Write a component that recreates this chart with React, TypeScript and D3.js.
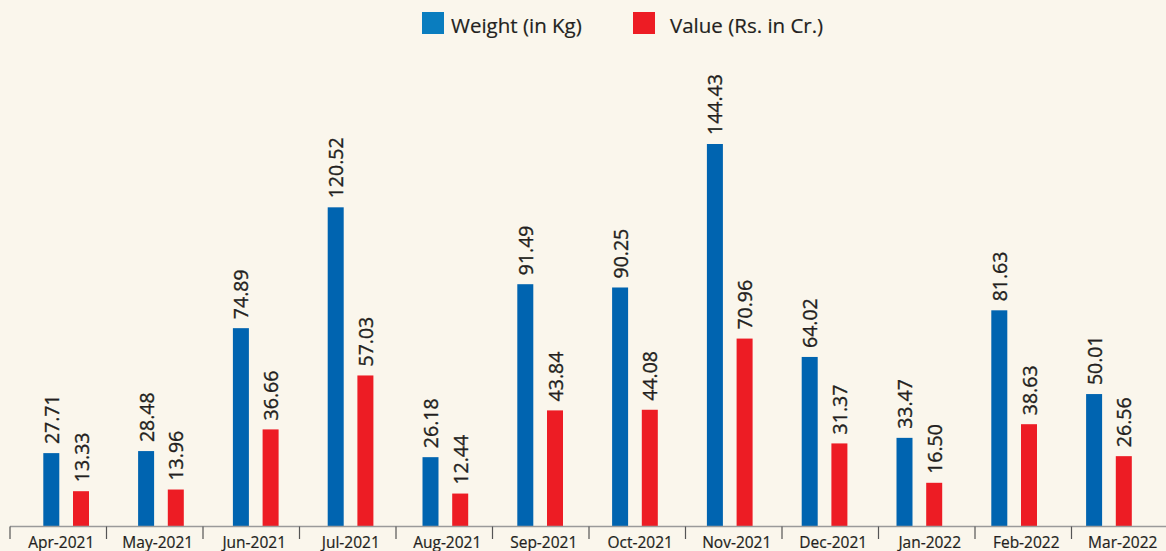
import React from "react";
import * as d3 from "d3";

const months = ["Apr-2021","May-2021","Jun-2021","Jul-2021","Aug-2021","Sep-2021","Oct-2021","Nov-2021","Dec-2021","Jan-2022","Feb-2022","Mar-2022"];
const weight = [27.71,28.48,74.89,120.52,26.18,91.49,90.25,144.43,64.02,33.47,81.63,50.01];
const value = [13.33,13.96,36.66,57.03,12.44,43.84,44.08,70.96,31.37,16.50,38.63,26.56];
const seriesNames = ["Weight (in Kg)", "Value (Rs. in Cr.)"];

const W = 1166, H = 551;
const BASE = 526.5;
const BLUE = "#0064b0";
const RED = "#ed1c24";
const LEG_BLUE = "#0a7dbf";
const TXT = "#231f20";
const FONT = "'Open Sans', sans-serif";

export default function App() {
  const xBars = d3.scaleBand<string>().domain(months).range([10, 10 + 12 * 94.8]).padding(0);
  const xTicks = d3.scaleBand<string>().domain(months).range([10, 10 + 12 * 96.5]).padding(0);
  const y = d3.scaleLinear().domain([0, 144.43]).range([BASE, 144]);
  const barW = 16;
  const offsets = [33.3, 63];
  const colors = [BLUE, RED];
  const data = [weight, value];

  return (
    <div style={{ position: "absolute", left: 0, top: 0, width: W, height: H }}>
      <svg width={W} height={H} style={{ display: "block", background: "#faf6ec" }}>
        <rect x={0} y={0} width={W} height={H} fill="#faf6ec" />
        {/* legend */}
        <rect x={422} y={12} width={22} height={22} fill={LEG_BLUE} />
        <text x={451} y={32.5} fontFamily={FONT} fontSize={20.5} fill={TXT} stroke={TXT} strokeWidth={0.2}>{seriesNames[0]}</text>
        <rect x={633} y={12} width={22} height={22} fill={RED} />
        <text x={670} y={32.5} fontFamily={FONT} fontSize={20.5} fill={TXT} stroke={TXT} strokeWidth={0.2}>{seriesNames[1]}</text>

        {/* bars and labels */}
        {data.map((series, si) =>
          series.map((v, i) => {
            const m = months[i];
            const bx = (xBars(m) as number) + offsets[si];
            const top = y(v);
            const cx = bx + barW / 2;
            return (
              <g key={si + "-" + i}>
                <rect x={bx} y={top} width={barW} height={BASE - top} fill={colors[si]} />
                <text
                  transform={`translate(${cx + 7.5},${top - 9}) rotate(-90)`}
                  fontFamily={FONT}
                  fontSize={19.5}
                  fill={TXT}
                  stroke={TXT}
                  strokeWidth={0.35}
                  textAnchor="start"
                >
                  {v.toFixed(2)}
                </text>
              </g>
            );
          })
        )}

        {/* axis */}
        <line x1={10} x2={W} y1={BASE} y2={BASE} stroke="#9a9a9a" strokeWidth={1.3} />
        {months.map((m) => (
          <line key={"t" + m} x1={xTicks(m) as number} x2={xTicks(m) as number} y1={BASE} y2={539} stroke="#555" strokeWidth={1.2} />
        ))}
        {months.map((m) => (
          <text
            key={"l" + m}
            x={(xTicks(m) as number) + xTicks.bandwidth() / 2 + 3}
            y={547.5}
            textAnchor="middle"
            fontFamily={FONT}
            fontSize={15.5}
            fill={TXT}
            stroke={TXT}
            strokeWidth={0.2}
          >
            {m}
          </text>
        ))}
      </svg>
    </div>
  );
}
